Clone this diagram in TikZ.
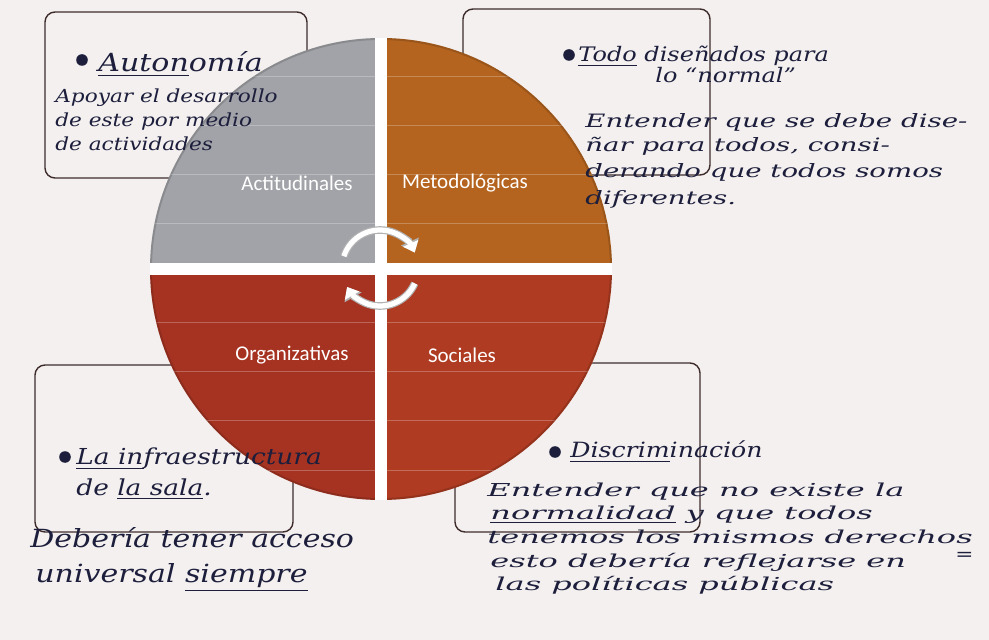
\documentclass[tikz,border=0pt]{standalone}
\usepackage{fontspec}
\usetikzlibrary{arrows.meta}
\newfontfamily\hand{DejaVu Serif}[FakeStretch=1.2]
\newfontfamily\handwide{DejaVu Serif}[FakeStretch=1.5]
\newfontfamily\handwider{DejaVu Serif}[FakeStretch=1.8]
\newfontfamily\quadfont{Carlito}
\definecolor{paper}{HTML}{F4F0EF}
\definecolor{ink}{HTML}{1C1E3C}
\definecolor{boxline}{HTML}{3E2C2C}
\definecolor{qgray}{HTML}{A2A3A8}
\definecolor{qorange}{HTML}{B4641F}
\definecolor{qred}{HTML}{A63322}
\definecolor{qredb}{HTML}{AE3B22}
\tikzset{
  notebox/.style={draw=boxline,line width=0.7pt,rounded corners=5pt},
  quadlabel/.style={text=white,font=\quadfont\fontsize{10.5}{12}\selectfont},
  dot/.style={circle,fill=ink,inner sep=0pt,minimum size=5.8pt},
  writing/.style={text=ink,anchor=base west,inner sep=0pt},
  arrowrim/.style={draw=black!30,line width=3.8pt,-{Triangle[width=9.5pt,length=6pt]}},
  arrowbody/.style={draw=white,line width=2.6pt,-{Triangle[width=8pt,length=5pt]}}
}
\begin{document}
\begin{tikzpicture}[x=0.5pt,y=-0.5pt]
\useasboundingbox (0,0) rectangle (989,640);
\fill[paper] (0,0) rectangle (989,640);
\draw[notebox] (45,12) rectangle (307,178);
\draw[notebox] (463,9) rectangle (710,175);
\draw[notebox] (35,365) rectangle (293,532);
\draw[notebox] (455,363) rectangle (700,532);
\begin{scope}
\clip (381,269) circle (231);
\fill[qgray] (0,0) rectangle (375,263);
\fill[qorange] (387,0) rectangle (989,263);
\fill[qred] (0,275) rectangle (375,640);
\fill[qredb] (387,275) rectangle (989,640);
\foreach \y in {77,126,175,224,323,372,421,470}
  \draw[white,opacity=0.25,line width=0.5pt] (140,\y) -- (375,\y) (387,\y) -- (620,\y);
\draw[black,opacity=0.15,line width=1pt] (381,269) circle (230);
\fill[white] (375,0) rectangle (387,640);
\fill[white] (0,263) rectangle (989,275);
\end{scope}
\node[quadlabel] (act) at (297,183) {Actitudinales};
\node[quadlabel] (met) at (465,183) {Metodológicas};
\node[quadlabel] (org) at (292,355) {Organizativas};
\node[quadlabel] (soc) at (462,355) {Sociales};
\coordinate (hub) at (380,268);
\draw[arrowrim] ([shift={(198:38)}]hub) arc (198:336:38);
\draw[arrowbody] ([shift={(198:38)}]hub) arc (198:336:38);
\draw[arrowrim] ([shift={(24:38)}]hub) arc (24:150:38);
\draw[arrowbody] ([shift={(24:38)}]hub) arc (24:150:38);
\node[dot] (d1) at (82,60) {};
\node[writing,font=\hand\itshape\fontsize{12.5}{15}\selectfont] (t1) at (98,72) {\underline{Auton}omía};
\node[writing,font=\hand\itshape\fontsize{9}{11}\selectfont] (t2) at (55,103) {Apoyar el desarrollo};
\node[writing,font=\hand\itshape\fontsize{9}{11}\selectfont] (t3) at (55,127) {de este por medio};
\node[writing,font=\hand\itshape\fontsize{9}{11}\selectfont] (t4) at (55,151) {de actividades};
\node[dot] (d2) at (569,55) {};
\node[writing,font=\hand\itshape\fontsize{10}{12}\selectfont] (m1) at (578,62) {\underline{Todo} diseñados para};
\node[writing,font=\hand\itshape\fontsize{10}{12}\selectfont] (m2) at (655,83) {lo “normal”};
\node[writing,font=\handwide\itshape\fontsize{9.2}{11}\selectfont] (m3) at (585,128) {Entender que se debe dise-};
\node[writing,font=\handwide\itshape\fontsize{9.2}{11}\selectfont] (m4) at (585,152) {ñar para todos, consi-};
\node[writing,font=\handwide\itshape\fontsize{9.2}{11}\selectfont] (m5) at (585,178) {derando que todos somos};
\node[writing,font=\handwide\itshape\fontsize{9.2}{11}\selectfont] (m6) at (585,205) {diferentes.};
\node[dot] (d3) at (65,457) {};
\node[writing,font=\hand\itshape\fontsize{11}{13}\selectfont] (o1) at (76,465) {\underline{La in}fraestructura};
\node[writing,font=\hand\itshape\fontsize{11}{13}\selectfont] (o2) at (76,495) {de \underline{la sala}.};
\node[writing,font=\hand\itshape\fontsize{12.5}{14}\selectfont] (o3) at (30,547) {Debería tener acceso};
\node[writing,font=\hand\itshape\fontsize{12.5}{14}\selectfont] (o4) at (35,582) {universal \underline{siempre}};
\node[dot] (d4) at (555,452) {};
\node[writing,font=\hand\itshape\fontsize{10.5}{12}\selectfont] (s1) at (570,458) {\underline{Discrim}inación};
\node[writing,font=\handwider\itshape\fontsize{8.9}{11}\selectfont] (s2) at (487,496) {Entender que no existe la};
\node[writing,font=\handwider\itshape\fontsize{8.9}{11}\selectfont] (s3) at (490,519) {\underline{normalidad} y que todos};
\node[writing,font=\handwider\itshape\fontsize{8.9}{11}\selectfont] (s4) at (487,543) {tenemos los mismos derechos};
\node[writing,font=\handwider\itshape\fontsize{8.9}{11}\selectfont] (s5) at (490,567) {esto debería reflejarse en};
\node[writing,font=\handwider\itshape\fontsize{8.9}{11}\selectfont] (s6) at (495,590) {las políticas públicas};
\node[writing,font=\hand\fontsize{9}{11}\selectfont] (s7) at (955,560) {=};
\end{tikzpicture}
\end{document}
